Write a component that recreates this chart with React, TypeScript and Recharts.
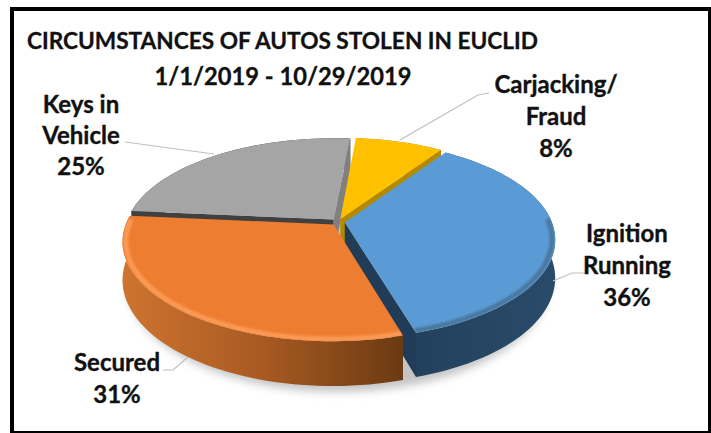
import React from "react";
import { PieChart, Pie } from "recharts";

const categories = ["Keys in Vehicle", "Carjacking/ Fraud", "Ignition Running", "Secured"];
const shares = [25, 8, 36, 31];
const labelLines = [["Keys in", "Vehicle", "25%"], ["Carjacking/", "Fraud", "8%"], ["Ignition", "Running", "36%"], ["Secured", "31%"]];
const titleLines = ["CIRCUMSTANCES OF AUTOS STOLEN IN EUCLID", "1/1/2019 - 10/29/2019"];

const topFill = ["#a5a5a5", "#ffc000", "#5b9bd5", "#ed7d31"];
const rimGlow = ["#a5a5a5", "#ffc000", "#4a789f", "#fb9a55"];
const startWall = ["#404040", "#b38900", "#203c56", "#7a4015"];
const endWall = ["#808080", "#b38900", "#203c56", "#7a4015"];
const FONT = "Lato, 'Open Sans', sans-serif";

// label block centre / first baseline, leader polyline
const labelCentre = [[81, 113], [556, 93], [627, 242], [117, 371]];
const labelStep = [31, 32, 32, 32];
const leaders = [
  [[125, 142], [214, 154]],
  [[489, 93], [478, 95], [400, 140]],
  [[553, 281], [572, 273], [585, 273]],
  [[163, 370], [173, 370], [188, 357]],
];

const A = 207, B = 96, K = 0.17, H = 37, EXPLODE = 0.033, RAD = Math.PI / 180;

type P = [number, number];
function project(cx: number, cy: number, u: number, v: number, h = 0): P {
  const w = 1 / (1 - K * v);
  return [cx + A * u * w, cy + (B * v + h) * w];
}
const toPath = (pts: P[], close = true) =>
  pts.map((p, i) => `${i ? "L" : "M"}${p[0].toFixed(2)} ${p[1].toFixed(2)}`).join(" ") + (close ? " Z" : "");

function arc(cx: number, cy: number, ou: number, ov: number, a0: number, a1: number, r = 1, h = 0): P[] {
  const n = Math.max(8, Math.ceil(Math.abs(a1 - a0) / 2));
  const out: P[] = [];
  for (let i = 0; i <= n; i++) {
    const t = (a0 + ((a1 - a0) * i) / n) * RAD;
    out.push(project(cx, cy, ou + r * Math.cos(t), ov - r * Math.sin(t), h));
  }
  return out;
}

function Slice(props: any) {
  const { cx, cy, startAngle, endAngle, index } = props;
  const mid = ((startAngle + endAngle) / 2) * RAD;
  const ou = EXPLODE * Math.cos(mid), ov = -EXPLODE * Math.sin(mid);
  const apex = project(cx, cy, ou, ov);
  const apexLow = project(cx, cy, ou, ov, H);
  const top = arc(cx, cy, ou, ov, startAngle, endAngle);
  const low = arc(cx, cy, ou, ov, startAngle, endAngle, 1, H);
  const inner = project(cx, cy, ou + 0.5 * Math.cos(mid), ov - 0.5 * Math.sin(mid));
  const visible = (c: P) => {
    const ex = c[0] - apex[0], ey = c[1] - apex[1];
    const cross = ex * (inner[1] - apex[1]) - ey * (inner[0] - apex[0]);
    return cross * ex < 0;
  };
  const wall = (c: P, d: P, fill: string) =>
    visible(c) ? <path d={toPath([apex, c, d, apexLow])} fill={fill} /> : null;
  const topPath = toPath([apex, ...top]);
  // the soft bevel only shows on the rim that faces the viewer
  const glow = arc(cx, cy, ou, ov, startAngle, endAngle, 0.985).filter((p) => p[1] > cy - 5);
  const shadow = [...arc(cx, cy, 0, 0, 0, 360, 1.0, H + 8)];
  return (
    <g>
      {index === 0 && (
        <g>
          <defs>
            <filter id="soft" x="-20%" y="-20%" width="140%" height="140%"><feGaussianBlur stdDeviation="4" /></filter>
            <filter id="glow" x="-10%" y="-10%" width="120%" height="120%"><feGaussianBlur stdDeviation="1.3" /></filter>
            <linearGradient id="wall3" gradientUnits="userSpaceOnUse" x1="120" x2="405" y1="0" y2="0">
              <stop offset="0" stopColor="#cf7430" /><stop offset="0.5" stopColor="#a85a22" /><stop offset="1" stopColor="#6a3a12" />
            </linearGradient>
            <linearGradient id="wall2" gradientUnits="userSpaceOnUse" x1="405" x2="560" y1="0" y2="0">
              <stop offset="0" stopColor="#22405c" /><stop offset="1" stopColor="#2a4b6a" />
            </linearGradient>
          </defs>
          <path d={toPath(shadow)} fill="#c4c4c4" filter="url(#soft)" />
        </g>
      )}
      <path d={toPath([...top, ...low.slice().reverse()])} fill={index >= 2 ? `url(#wall${index})` : startWall[index]} />
      {wall(top[0], low[0], startWall[index])}
      {wall(top[top.length - 1], low[low.length - 1], endWall[index])}
      <path d={topPath} fill={topFill[index]} />
      <clipPath id={`clip${index}`}><path d={topPath} /></clipPath>
      {index >= 2 && (
        <g clipPath={`url(#clip${index})`}>
          <path d={toPath(glow, false)} fill="none" stroke={rimGlow[index]} strokeWidth={5} filter="url(#glow)" />
        </g>
      )}
    </g>
  );
}

function Label(props: any) {
  const i = props.index;
  const lines = labelLines[i];
  const [x, y] = labelCentre[i];
  return (
    <g>
      <polyline points={leaders[i].map((p) => p.join(",")).join(" ")} fill="none" stroke="#bfbfbf" strokeWidth={1.2} />
      <text x={x} y={y} textAnchor="middle" fontFamily={FONT} fontWeight={700} fontSize={24} fill="#111" stroke="#111" strokeWidth={0.35}>
        {lines.map((l, j) => (
          <tspan key={j} x={x} y={y + j * labelStep[i]}>{l}</tspan>
        ))}
      </text>
    </g>
  );
}

const data = categories.map((name, i) => ({ name, value: shares[i] }));

export default function App() {
  return (
    <div style={{ position: "absolute", left: 0, top: 0, width: 711, height: 433, background: "#fff", overflow: "hidden" }}>
      <PieChart width={711} height={433} margin={{ top: 0, right: 0, bottom: 0, left: 0 }}>
        <Pie
          data={data}
          dataKey="value"
          nameKey="name"
          cx={338}
          cy={222}
          innerRadius={0}
          outerRadius={207}
          startAngle={-185.2}
          endAngle={-545.2}
          stroke="none"
          shape={Slice}
          label={Label}
          labelLine={false}
          isAnimationActive={false}
        />
      </PieChart>
      <svg width={711} height={433} style={{ position: "absolute", left: 0, top: 0, pointerEvents: "none" }}>
        <text x={27} y={49} fontFamily={FONT} fontWeight={700} fontSize={23} fill="#111" stroke="#111" strokeWidth={0.3} textLength={511} lengthAdjust="spacingAndGlyphs">{titleLines[0]}</text>
        <text x={283} y={85} textAnchor="middle" fontFamily={FONT} fontWeight={700} fontSize={24} fill="#111" stroke="#111" strokeWidth={0.3} textLength={257} lengthAdjust="spacingAndGlyphs">{titleLines[1]}</text>
      </svg>
      <div style={{ position: "absolute", left: 10, top: 7, width: 702, height: 428, boxSizing: "border-box", border: "4px solid #000" }} />
    </div>
  );
}
